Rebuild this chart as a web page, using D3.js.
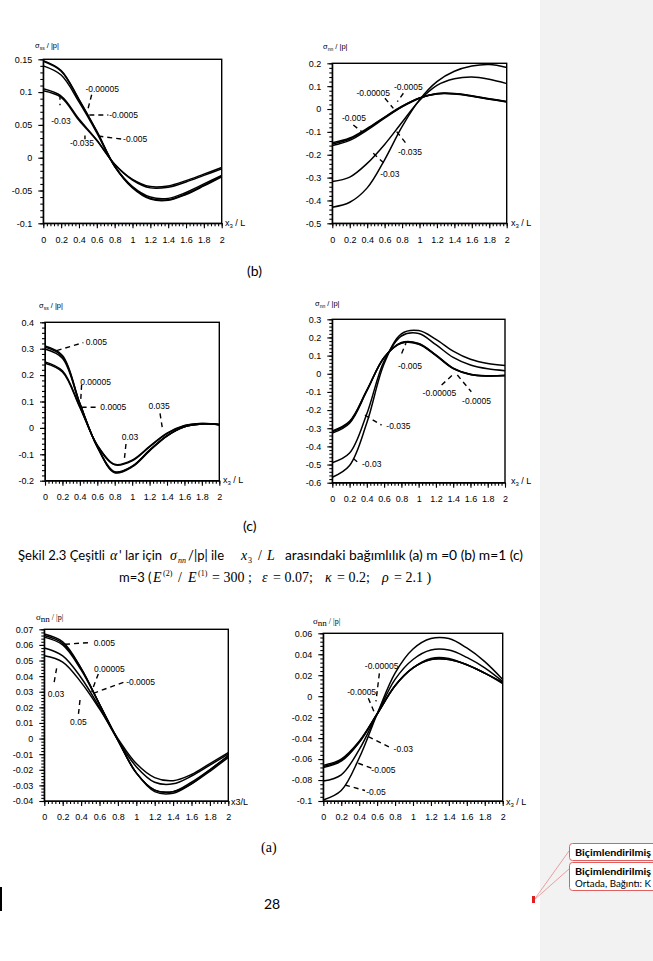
<!DOCTYPE html>
<html><head><meta charset="utf-8">
<script src="https://cdn.jsdelivr.net/npm/d3@7"></script>
<style>body{margin:0;background:#fff}svg{display:block}</style>
</head><body>
<svg id="pg" width="653" height="961"></svg>
<script>
// ---------------- DATA ----------------
const xValues = [0,0.2,0.4,0.6,0.8,1.0,1.2,1.4,1.6,1.8,2.0];
const xTickLabels = [0,0.2,0.4,0.6,0.8,1,1.2,1.4,1.6,1.8,2];

// Chart 1 (top-left)  sigma_ss/|p|
const c1Names = ["-0.00005","-0.0005","-0.005","-0.03","-0.035"];
const c1_s1 = [0.148,0.133,0.089,0.040,-0.013,-0.045,-0.062,-0.064,-0.055,-0.042,-0.028];
const c1_s2 = [0.147,0.132,0.088,0.040,-0.013,-0.046,-0.063,-0.065,-0.056,-0.043,-0.029];
const c1_s3 = [0.140,0.126,0.085,0.038,-0.013,-0.044,-0.060,-0.062,-0.053,-0.040,-0.027];
const c1_s4 = [0.105,0.094,0.059,0.027,-0.010,-0.033,-0.044,-0.043,-0.035,-0.025,-0.015];
const c1_s5 = [0.102,0.092,0.057,0.026,-0.010,-0.034,-0.046,-0.045,-0.037,-0.027,-0.017];
const c1YTicks = [-0.1,-0.05,0,0.05,0.1,0.15];

// Chart 2 (top-right) sigma_nn/|p|
const c2Names = ["-0.00005","-0.0005","-0.005","-0.035","-0.03"];
const c2_s1 = [-0.148,-0.127,-0.085,-0.035,0.012,0.048,0.066,0.066,0.056,0.043,0.031];
const c2_s2 = [-0.153,-0.131,-0.088,-0.037,0.011,0.048,0.067,0.067,0.057,0.044,0.032];
const c2_s3 = [-0.160,-0.137,-0.092,-0.040,0.009,0.047,0.068,0.068,0.058,0.045,0.033];
const c2_s4 = [-0.317,-0.298,-0.238,-0.155,-0.058,0.037,0.103,0.132,0.140,0.130,0.111];
const c2_s5 = [-0.430,-0.408,-0.345,-0.222,-0.077,0.040,0.120,0.165,0.188,0.195,0.182];
const c2YTicks = [-0.5,-0.4,-0.3,-0.2,-0.1,0,0.1,0.2];

// Chart 3 (middle-left) sigma_ss/|p|
const c3Names = ["0.005","0.00005","0.0005","0.03","0.035"];
const c3_s1 = [0.310,0.274,0.093,-0.072,-0.168,-0.146,-0.085,-0.030,0.004,0.015,0.012];
const c3_s2 = [0.306,0.270,0.092,-0.072,-0.170,-0.148,-0.087,-0.031,0.004,0.015,0.012];
const c3_s3 = [0.299,0.264,0.090,-0.071,-0.166,-0.145,-0.084,-0.029,0.004,0.015,0.012];
const c3_s4 = [0.250,0.216,0.080,-0.066,-0.140,-0.125,-0.072,-0.022,0.008,0.017,0.013];
const c3_s5 = [0.245,0.212,0.078,-0.065,-0.138,-0.122,-0.070,-0.020,0.009,0.017,0.013];
const c3YTicks = [-0.2,-0.1,0,0.1,0.2,0.3,0.4];

// Chart 4 (middle-right) sigma_nn/|p|
const c4Names = ["-0.00005","-0.0005","-0.005","-0.035","-0.03"];
const c4_s1 = [-0.315,-0.262,-0.090,0.090,0.168,0.163,0.100,0.028,-0.004,-0.012,-0.010];
const c4_s2 = [-0.320,-0.266,-0.092,0.090,0.170,0.165,0.102,0.030,-0.004,-0.012,-0.010];
const c4_s3 = [-0.327,-0.272,-0.095,0.089,0.172,0.167,0.104,0.031,-0.003,-0.011,-0.009];
const c4_s4 = [-0.490,-0.437,-0.220,0.070,0.208,0.222,0.160,0.090,0.048,0.027,0.017];
const c4_s5 = [-0.570,-0.505,-0.270,0.055,0.220,0.238,0.190,0.125,0.080,0.057,0.046];
const c4YTicks = [-0.6,-0.5,-0.4,-0.3,-0.2,-0.1,0,0.1,0.2,0.3];

// Chart 5 (bottom-left) sigma_nn/|p|
const c5Names = ["0.005","0.00005","-0.0005","0.03","0.05"];
const c5_s1 = [0.067,0.062,0.045,0.022,-0.001,-0.022,-0.033,-0.034,-0.028,-0.020,-0.011];
const c5_s2 = [0.066,0.061,0.045,0.022,-0.001,-0.022,-0.033,-0.034,-0.029,-0.020,-0.011];
const c5_s3 = [0.065,0.060,0.044,0.022,-0.001,-0.022,-0.034,-0.035,-0.029,-0.021,-0.012];
const c5_s4 = [0.058,0.053,0.039,0.020,-0.001,-0.018,-0.028,-0.029,-0.024,-0.017,-0.010];
const c5_s5 = [0.053,0.049,0.036,0.019,0.000,-0.016,-0.025,-0.027,-0.023,-0.016,-0.009];
const c5YTicks = [-0.04,-0.03,-0.02,-0.01,0,0.01,0.02,0.03,0.04,0.05,0.06,0.07];

// Chart 6 (bottom-right) sigma_nn/|p|
const c6Names = ["-0.00005","-0.0005","-0.03","-0.005","-0.05"];
const c6_s1 = [-0.066,-0.060,-0.043,-0.017,0.010,0.027,0.035,0.035,0.030,0.022,0.013];
const c6_s2 = [-0.067,-0.061,-0.044,-0.017,0.010,0.027,0.035,0.035,0.030,0.022,0.013];
const c6_s3 = [-0.068,-0.062,-0.044,-0.017,0.010,0.027,0.036,0.036,0.030,0.022,0.012];
const c6_s4 = [-0.081,-0.075,-0.051,-0.017,0.016,0.035,0.044,0.044,0.037,0.027,0.014];
const c6_s5 = [-0.099,-0.090,-0.059,-0.017,0.022,0.045,0.055,0.055,0.046,0.033,0.016];
const c6YTicks = [-0.1,-0.08,-0.06,-0.04,-0.02,0,0.02,0.04,0.06];

// Annotation labels (data coordinates: label centre, dashed leader from->to)
const c1Ann = [
 ["-0.00005",0.66,0.104,0.542,0.096,0.493,0.070],
 ["-0.0005",0.90,0.065,0.516,0.065,0.729,0.065],
 ["-0.005",1.03,0.028,0.617,0.033,0.897,0.028],
 ["-0.03",0.198,0.056,0.187,0.096,0.187,0.080],
 ["-0.035",0.434,0.022,0.467,0.034,0.467,0.028]];
const c2Ann = [
 ["-0.00005",0.47,0.069,0.604,0.047,0.70,0.003],
 ["-0.0005",0.872,0.098,0.815,0.069,0.746,0.032],
 ["-0.005",0.249,-0.040,0.241,-0.070,0.337,-0.099],
 ["-0.035",0.891,-0.190,0.738,-0.099,0.845,-0.150],
 ["-0.03",0.66,-0.284,0.47,-0.194,0.616,-0.245]];
const c3Ann = [
 ["0.005",0.59,0.327,0.134,0.293,0.44,0.323],
 ["0.00005",0.58,0.175,0.42,0.163,0.41,0.106],
 ["0.0005",0.784,0.078,0.42,0.078,0.61,0.078],
 ["0.035",1.31,0.083,1.32,0.055,1.35,-0.008],
 ["0.03",0.975,-0.033,0.929,-0.061,0.91,-0.121]];
const c4Ann = [
 ["-0.005",0.90,0.043,0.803,0.112,0.853,0.168],
 ["-0.00005",1.24,-0.104,1.266,-0.062,1.42,0.006],
 ["-0.0005",1.67,-0.149,1.448,-0.007,1.61,-0.099],
 ["-0.035",0.765,-0.288,0.378,-0.228,0.571,-0.283],
 ["-0.03",0.456,-0.498,0.243,-0.467,0.313,-0.494]];
const c5Ann = [
 ["0.005",0.652,0.0615,0.225,0.0604,0.496,0.0615],
 ["0.00005",0.707,0.0444,0.587,0.0414,0.514,0.030],
 ["-0.0005",1.047,0.0364,0.533,0.029,0.877,0.0364],
 ["0.03",0.127,0.0285,0.134,0.045,0.105,0.0354],
 ["0.05",0.37,0.0108,0.388,0.0247,0.37,0.015]];
const c6Ann = [
 ["-0.00005",0.65,0.0288,0.625,0.0218,0.587,-0.005],
 ["-0.0005",0.428,0.0044,0.502,-0.002,0.565,-0.0147],
 ["-0.03",0.892,-0.0503,0.502,-0.0386,0.762,-0.0497],
 ["-0.005",0.67,-0.070,0.39,-0.064,0.54,-0.0688],
 ["-0.05",0.587,-0.0917,0.242,-0.0847,0.465,-0.090]];

// ---------------- LAYOUT ----------------
const charts = [
 {L:43.3,R:221.7,T:59.3,B:223.3,dom:[-0.1,0.15],yt:c1YTicks,minor:0.01,series:[c1_s1,c1_s2,c1_s3,c1_s4,c1_s5],names:c1Names,ann:c1Ann,
  sub:"ss",tx:35,ty:48,small:true,xlx:225,xly:226},
 {L:332.3,R:506.7,T:63.3,B:223.3,dom:[-0.5,0.2],yt:c2YTicks,minor:0.02,series:[c2_s1,c2_s2,c2_s3,c2_s4,c2_s5],names:c2Names,ann:c2Ann,
  sub:"nn",tx:323,ty:49,small:true,xlx:511,xly:226},
 {L:45,R:219.3,T:322.3,B:480.7,dom:[-0.2,0.4],yt:c3YTicks,minor:0.02,series:[c3_s1,c3_s2,c3_s3,c3_s4,c3_s5],names:c3Names,ann:c3Ann,
  sub:"ss",tx:39,ty:308,small:true,xlx:223,xly:483},
 {L:332.3,R:505,T:319.3,B:482.7,dom:[-0.6,0.3],yt:c4YTicks,minor:0.02,series:[c4_s1,c4_s2,c4_s3,c4_s4,c4_s5],names:c4Names,ann:c4Ann,
  sub:"nn",tx:315,ty:306,small:true,xlx:511,xly:484},
 {L:44.3,R:228.3,T:629.3,B:801,dom:[-0.04,0.07],yt:c5YTicks,minor:0.002,series:[c5_s1,c5_s2,c5_s3,c5_s4,c5_s5],names:c5Names,ann:c5Ann,
  sub:"nn",tx:36,ty:620,small:false,xlx:231,xly:805,compact:true},
 {L:323.3,R:502.7,T:633.3,B:801,dom:[-0.1,0.06],yt:c6YTicks,minor:0.004,series:[c6_s1,c6_s2,c6_s3,c6_s4,c6_s5],names:c6Names,ann:c6Ann,
  sub:"nn",tx:313,ty:624,small:false,xlx:506,xly:805}
];

const svg = d3.select("#pg");
svg.append("rect").attr("width",653).attr("height",961).attr("fill","#fff");
svg.append("rect").attr("x",540).attr("y",0).attr("width",113).attr("height",961).attr("fill","#f2f2f2");

const SANS = "'Liberation Sans', Arial, sans-serif";
const SERIF = "'Liberation Serif', 'Times New Roman', serif";
const BODY = "Lato, 'Open Sans', sans-serif";
const fmt = d => String(+d.toFixed(4)).replace("−","-");

charts.forEach((c,ci) => {
  const g = svg.append("g");
  const x = d3.scaleLinear().domain([0,2]).range([c.L,c.R]);
  const y = d3.scaleLinear().domain(c.dom).range([c.B,c.T]);

  const yMinor = d3.range(Math.round((c.dom[1]-c.dom[0])/c.minor)+1).map(i => c.dom[0]+i*c.minor);
  const xMinor = d3.range(51).map(i => i*0.04);
  g.append("g").attr("transform",`translate(${c.L},0)`)
    .call(d3.axisLeft(y).tickValues(yMinor).tickSize(3).tickFormat(""))
    .call(s=>s.select(".domain").remove());
  g.append("g").attr("transform",`translate(0,${c.B})`)
    .call(d3.axisBottom(x).tickValues(xMinor).tickSize(3).tickFormat(""))
    .call(s=>s.select(".domain").remove());
  const ya = g.append("g").attr("transform",`translate(${c.L},0)`)
    .call(d3.axisLeft(y).tickValues(c.yt).tickSize(5).tickPadding(6).tickSizeOuter(0).tickFormat(fmt));
  const xa = g.append("g").attr("transform",`translate(0,${c.B})`)
    .call(d3.axisBottom(x).tickValues(xTickLabels).tickSize(5).tickPadding(8).tickSizeOuter(0).tickFormat(fmt));
  [ya,xa].forEach(a=>{a.selectAll("text").attr("font-family",SANS).attr("font-size",9).attr("fill","#000");});
  g.selectAll(".tick line").attr("stroke","#000").attr("stroke-width",1.1);
  g.append("rect").attr("x",c.L).attr("y",c.T).attr("width",c.R-c.L).attr("height",c.B-c.T)
    .attr("fill","none").attr("stroke","#000").attr("stroke-width",1.4);

  const line = d3.line().x((d,i)=>x(xValues[i])).y(d=>y(d)).curve(d3.curveCatmullRom.alpha(0.5));
  c.series.forEach((s,si)=>{
    g.append("path").datum(s).attr("d",line).attr("fill","none").attr("stroke","#000")
      .attr("stroke-width",1.5).attr("class","curve").attr("data-name",c.names[si]);
  });

  c.ann.forEach(a=>{
    g.append("line").attr("x1",x(a[3])).attr("y1",y(a[4])).attr("x2",x(a[5])).attr("y2",y(a[6]))
      .attr("stroke","#000").attr("stroke-width",1.4).attr("stroke-dasharray","5,4");
    g.append("text").attr("x",x(a[1])).attr("y",y(a[2])).attr("dy","0.35em").attr("text-anchor","middle")
      .attr("font-family",SANS).attr("font-size",8.5).attr("fill","#000").text(a[0]);
  });

  const t = g.append("text").attr("x",c.tx).attr("y",c.ty).attr("font-family",SANS).attr("fill","#000");
  if (c.small) {
    t.attr("font-size",7.5);
    t.append("tspan").attr("fill","#000").text("σ");
    t.append("tspan").attr("fill","#000").attr("font-size",5).attr("dy",2).text(c.sub);
    t.append("tspan").attr("fill","#000").attr("dy",-2).text(" / |p|");
  } else {
    t.attr("font-size",8);
    t.append("tspan").attr("fill","#000").attr("font-family",SERIF).attr("font-size",9).text("σ");
    t.append("tspan").attr("fill","#000").attr("font-family",SERIF).attr("font-size",9).attr("dy",2).text("nn");
    t.append("tspan").attr("fill","#000").attr("dy",-2).attr("font-family",SERIF).text(" / |p|");
  }
  const xt = g.append("text").attr("x",c.xlx).attr("y",c.xly).attr("font-family",SANS).attr("font-size",9).attr("fill","#000");
  if (c.compact) {
    xt.append("tspan").text("x3/L");
  } else {
    xt.append("tspan").text("x");
    xt.append("tspan").attr("font-size",6).attr("dy",2).text("3");
    xt.append("tspan").attr("dy",-2).text(" / L");
  }
});

// ---------------- TEXT ----------------
function txt(s,x,y,font,size,opts={}) {
  const t = svg.append("text").attr("x",x).attr("y",y).attr("font-family",font).attr("font-size",size).attr("fill","#000").text(s);
  if (opts.italic) t.attr("font-style","italic");
  if (opts.bold) t.attr("font-weight","bold");
  if (opts.len) t.attr("textLength",opts.len).attr("lengthAdjust","spacingAndGlyphs");
  return t;
}
txt("(b)",247,276,BODY,14);
txt("(c)",243,531,BODY,14);
const y1 = 560;
txt("Şekil 2.3 Çeşitli",18,y1,BODY,13,{len:87});
txt("α",110,y1,SERIF,14,{italic:true});
txt("' lar için",119,y1,BODY,13);
txt("σ",170,y1,SERIF,14,{italic:true});
txt("nn",178,y1+3,SERIF,8,{italic:true});
txt("/|p| ile",188,y1,BODY,13);
txt("x",241,y1,SERIF,14,{italic:true});
txt("3",248,y1+3,SERIF,8);
txt("/",258,y1,SERIF,14);
txt("L",267,y1,SERIF,14,{italic:true});
txt("arasındaki bağımlılık (a) m =0 (b) m=1 (c)",285,y1,BODY,13,{len:238});
const y2 = 582;
txt("m=3 (",119,y2,BODY,13);
txt("E",153,y2,SERIF,14,{italic:true});
txt("(2)",163,y2-6,SERIF,8);
txt("/",178,y2,SERIF,14);
txt("E",188,y2,SERIF,14,{italic:true});
txt("(1)",198,y2-6,SERIF,8);
txt("= 300 ;",212,y2,SERIF,14);
txt("ε",262,y2,SERIF,14,{italic:true});
txt("= 0.07;",273,y2,SERIF,14);
txt("κ",325,y2,SERIF,14,{italic:true});
txt("= 0.2;",337,y2,SERIF,14);
txt("ρ",382,y2,SERIF,14,{italic:true});
txt("= 2.1 )",394,y2,SERIF,14);

txt("(a)",261,852,SERIF,14);
txt("28",264,909,BODY,14);
svg.append("rect").attr("x",0).attr("y",887).attr("width",2).attr("height",24).attr("fill","#000");

const red = "#e06060";
svg.append("line").attr("x1",534).attr("y1",900).attr("x2",569).attr("y2",851).attr("stroke",red).attr("stroke-width",0.8).attr("opacity",0.7);
svg.append("line").attr("x1",534).attr("y1",900).attr("x2",569).attr("y2",869).attr("stroke",red).attr("stroke-width",0.8).attr("opacity",0.7);
svg.append("rect").attr("x",569.5).attr("y",843.5).attr("width",100).attr("height",17).attr("rx",3).attr("fill","#fff").attr("stroke",red).attr("stroke-width",1);
svg.append("rect").attr("x",569.5).attr("y",862.5).attr("width",100).attr("height",28).attr("rx",3).attr("fill","#fff").attr("stroke",red).attr("stroke-width",1);
txt("Biçimlendirilmiş",575,856,BODY,10,{bold:true,len:76});
txt("Biçimlendirilmiş",575,875,BODY,10,{bold:true,len:76});
txt("Ortada, Bağıntı: K",575,887,BODY,10,{len:76});
svg.append("rect").attr("x",532).attr("y",896).attr("width",3).attr("height",7).attr("fill","#e02020");
</script>
</body></html>
